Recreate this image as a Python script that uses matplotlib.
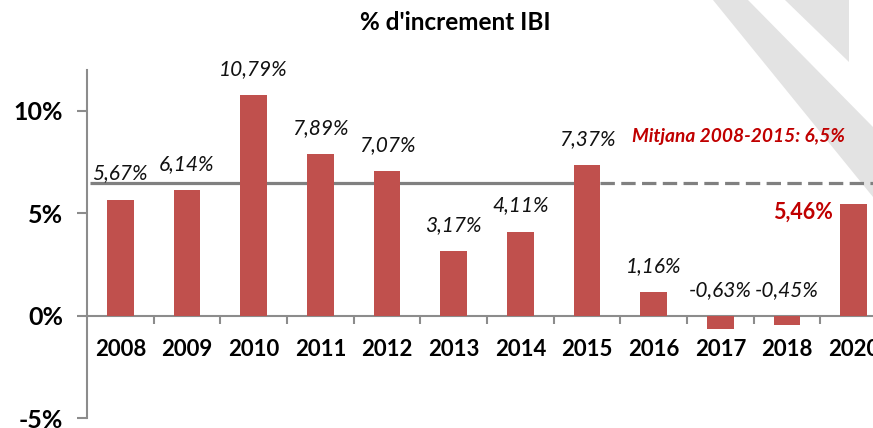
import matplotlib
matplotlib.use('Agg')
import matplotlib.pyplot as plt
from matplotlib.patches import Polygon

years = ['2008', '2009', '2010', '2011', '2012', '2013', '2014', '2015',
         '2016', '2017', '2018', '2020']
increments = [5.67, 6.14, 10.79, 7.89, 7.07, 3.17, 4.11, 7.37, 1.16, -0.63, -0.45, 5.46]
mean_2008_2015 = 6.5
yticks = [-5, 0, 5, 10]

plt.rcParams['font.family'] = ['Lato', 'DejaVu Sans']

W, H = 873, 428
fig = plt.figure(figsize=(W / 100, H / 100), dpi=100)

# light grey watermark shapes in the top right corner
gray = '#e3e3e3'
stripe = [(713, 0), (748, 0), (873, 127), (873, 197)]
tri = [(785, 0), (849, 0), (849, 62)]
for pts in (stripe, tri):
    poly = Polygon([(x / W, 1 - y / H) for x, y in pts], closed=True,
                   transform=fig.transFigure, facecolor=gray, edgecolor='none', zorder=-5)
    fig.patches.append(poly)

ax = fig.add_axes([87 / W, 10 / H, 800 / W, 348 / H])
ax.patch.set_alpha(0)

x = list(range(len(years)))
bars = ax.bar(x, increments, width=0.4, color='#c0504d', zorder=3)

# mean line: solid over 2008-2015, dashed afterwards
ax.plot([-0.45, 7], [mean_2008_2015] * 2, color='#808080', lw=2.3, zorder=2,
        solid_capstyle='butt')
ax.plot([7.2, 11.5], [mean_2008_2015] * 2, color='#808080', lw=2.3, zorder=2,
        linestyle=(0, (4.5, 2)))

ax.set_xlim(-0.5, 11.5)
ax.set_ylim(-5, 12)

for i, v in enumerate(increments):
    txt = f'{v:.2f}'.replace('.', ',') + '%'
    if years[i] == '2020':
        ax.annotate(txt, (i - 0.2, v), xytext=(-7, 2), textcoords='offset pixels',
                    ha='right', va='top', fontsize=15.5, fontweight='bold', color='#c00000')
    else:
        ax.annotate(txt, (i, max(v, 0)), xytext=(0, 16), textcoords='offset pixels',
                    ha='center', va='bottom', fontsize=15, fontstyle='italic', color='#111111')

ax.text(9.27, 8.73, 'Mitjana 2008-2015: 6,5%', ha='center', va='center',
        fontsize=13.8, fontweight='bold', fontstyle='italic', color='#c00000')

for s in ('top', 'right'):
    ax.spines[s].set_visible(False)
ax.spines['bottom'].set_position(('data', 0))
for s in ('left', 'bottom'):
    ax.spines[s].set_color('#8c8c8c')
    ax.spines[s].set_linewidth(1.5)

ax.set_yticks(yticks)
ax.set_yticklabels([f'{t}%' for t in yticks], fontsize=18, fontweight='bold')
ax.tick_params(axis='y', length=7, width=1.5, color='#8c8c8c', pad=10)

ax.set_xticks(x)
ax.set_xticklabels(years, fontsize=16, fontweight='bold')
ax.tick_params(axis='x', length=0, pad=17)
ax.set_xticks([i + 0.5 for i in x], minor=True)
ax.tick_params(axis='x', which='minor', length=6, width=1.5, color='#8c8c8c', direction='out')

fig.text(455 / W, 1 - 23 / H, "% d'increment IBI", ha='center', va='center',
         fontsize=17.5, fontweight='bold')

fig.savefig('out.png', dpi=100)
